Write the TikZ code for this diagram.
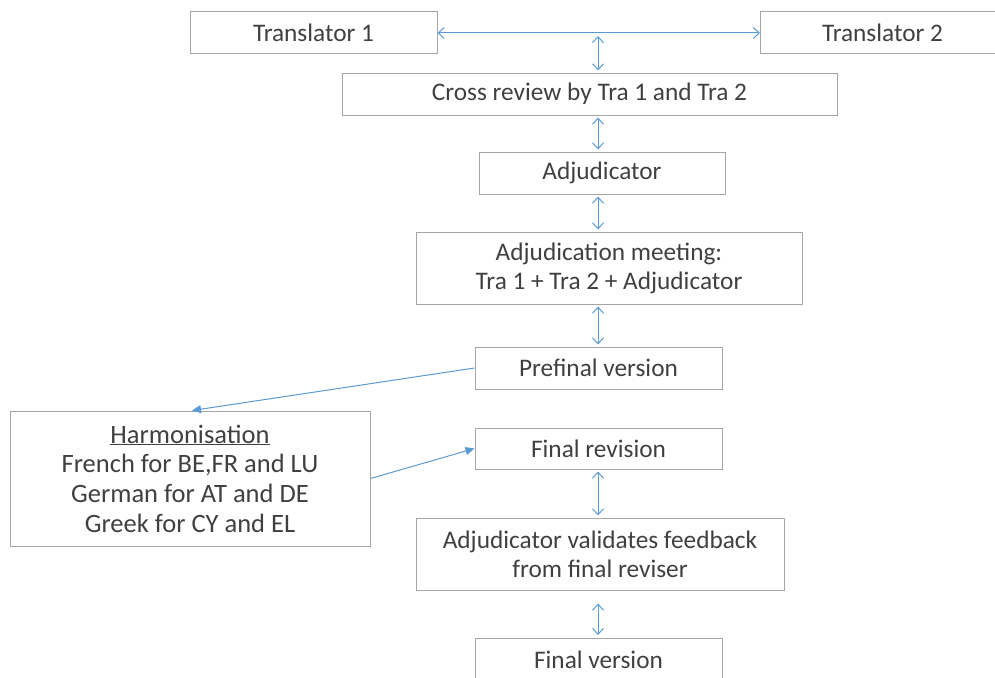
\documentclass[tikz,border=0pt]{standalone}
\usepackage{fontspec}
\setmainfont{Carlito}
\usetikzlibrary{arrows.meta,calc}
\definecolor{boxgray}{HTML}{A6A6A6}
\definecolor{arrblue}{HTML}{5B9BD5}
\definecolor{txtgray}{HTML}{404040}
\begin{document}
\begin{tikzpicture}[x=1pt,y=-1pt,
  bx/.style={draw=boxgray,line width=1pt,rectangle,inner sep=0pt,align=center,
    text=txtgray,font=\fontsize{25.3}{29}\selectfont},
  dbl/.style={draw=arrblue,line width=1pt,{Straight Barb[length=6pt,width=11pt]}-{Straight Barb[length=6pt,width=11pt]}},
  sgl/.style={draw=arrblue,line width=1pt,-{Triangle[length=9pt,width=8pt]}}]
\useasboundingbox (0,0) rectangle (995,677);
\begin{scope}
\clip (0,0) rectangle (995,677);
\node[bx,minimum width=247pt,minimum height=42pt] (t1) at (313.5,33) {Translator 1};
\node[bx,minimum width=240pt,minimum height=42pt,anchor=west] (t2) at (760,33) {\hspace*{4pt}Translator 2};
\node[bx,minimum width=495pt,minimum height=42pt] (cr) at (589.5,94) {Cross review by Tra 1 and Tra 2};
\node[bx,minimum width=246pt,minimum height=42pt] (adj) at (602,173) {Adjudicator};
\node[bx,minimum width=386pt,minimum height=72pt] (meet) at (609,268) {\raisebox{-2pt}{\parbox{380pt}{\centering Adjudication meeting:\\Tra 1 + Tra 2 + Adjudicator}}};
\node[bx,minimum width=247pt,minimum height=42pt] (pre) at (598.5,368) {Prefinal version};
\node[bx,minimum width=360pt,minimum height=135pt,font=\fontsize{26.5}{29.7}\selectfont] (harm) at (190,478.5) {\underline{Harmonisation}\\French for BE,FR and LU\\German for AT and DE\\Greek for CY and EL};
\node[bx,minimum width=247pt,minimum height=41pt] (frev) at (598.5,448.5) {Final revision};
\node[bx,minimum width=368pt,minimum height=72pt] (val) at (600,554) {Adjudicator validates feedback\\from final reviser};
\node[bx,minimum width=247pt,minimum height=84pt,anchor=north] (fv) at (598.5,638) {};
\node[text=txtgray,font=\fontsize{25.3}{29}\selectfont] (fvt) at (598.5,660) {Final version};
\end{scope}
\coordinate (tm) at (598,33);
\coordinate (hn) at ($(harm.north)+(2,0)$);
\draw[dbl] (t1.east) -- (t2.west);
\draw[dbl,shorten <=3pt,shorten >=2pt] (tm) -- (cr.north -| tm);
\draw[dbl,shorten <=2pt,shorten >=2pt] (cr.south -| tm) -- (adj.north -| tm);
\draw[dbl,shorten <=2pt,shorten >=2pt] (adj.south -| tm) -- (meet.north -| tm);
\draw[dbl,shorten <=2pt,shorten >=2pt] (meet.south -| tm) -- (pre.north -| tm);
\draw[dbl,shorten <=2pt,shorten >=2pt] (frev.south -| tm) -- (val.north -| tm);
\draw[dbl,shorten <=13pt,shorten >=3pt] (val.south -| tm) -- (fv.north -| tm);
\draw[sgl] (pre.west) -- (hn);
\draw[sgl] (harm.east) -- (frev.west);
\end{tikzpicture}
\end{document}
